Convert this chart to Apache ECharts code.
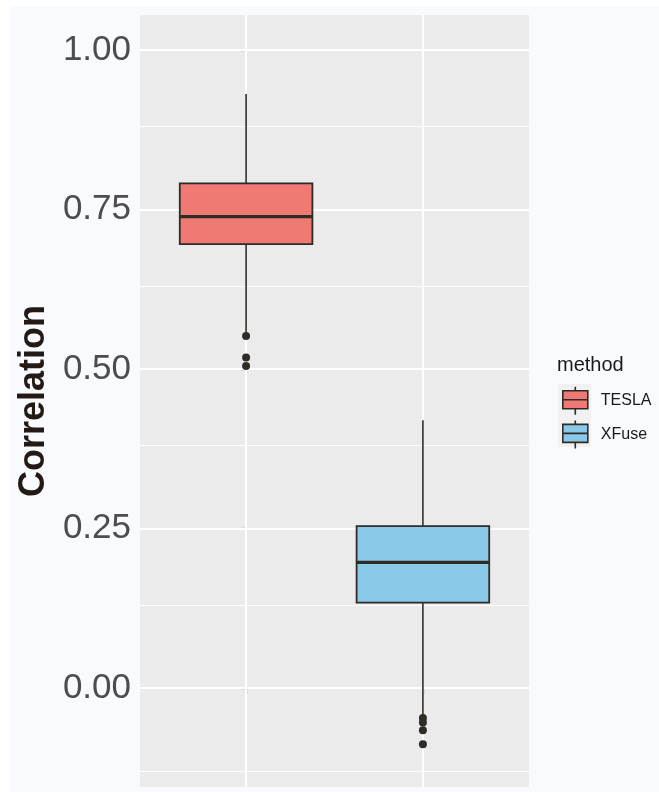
<!DOCTYPE html>
<html>
<head>
<meta charset="utf-8">
<script src="https://cdn.jsdelivr.net/npm/echarts@6/dist/echarts.min.js"></script>
<style>
html,body{margin:0;padding:0;background:#ffffff;}
#chart{width:659px;height:792px;}
</style>
</head>
<body>
<div id="chart"></div>
<script>
// ---- data ----
var categories = ['TESLA', 'XFuse'];
var whiskerLow = [0.556, -0.042];
var q1 = [0.696, 0.134];
var median = [0.739, 0.197];
var q3 = [0.791, 0.254];
var whiskerHigh = [0.931, 0.420];
var outliersTESLA = [0.552, 0.518, 0.505];
var outliersXFuse = [-0.047, -0.054, -0.066, -0.088];
var yTicks = [0, 0.25, 0.5, 0.75, 1.0];
var yMinor = [-0.125, 0.125, 0.375, 0.625, 0.875];
var fillColors = ['#EF7A73', '#8BC9E8'];

var dark = '#2F2B27';
var chart = echarts.init(document.getElementById('chart'), null, {renderer: 'canvas'});

function renderBox(params, api) {
  var x = api.value(0);
  var lo = api.coord([x, api.value(1)]);
  var b1 = api.coord([x, api.value(2)]);
  var md = api.coord([x, api.value(3)]);
  var b3 = api.coord([x, api.value(4)]);
  var hi = api.coord([x, api.value(5)]);
  var w = api.size([0.75, 0])[0];
  var cx = lo[0];
  return {
    type: 'group',
    children: [
      {type: 'line', shape: {x1: cx, y1: hi[1], x2: cx, y2: b3[1]}, style: {stroke: dark, lineWidth: 1.6}},
      {type: 'line', shape: {x1: cx, y1: b1[1], x2: cx, y2: lo[1]}, style: {stroke: dark, lineWidth: 1.6}},
      {type: 'rect', shape: {x: cx - w / 2, y: b3[1], width: w, height: b1[1] - b3[1]},
        style: {fill: api.visual('color'), stroke: dark, lineWidth: 1.8}},
      {type: 'line', shape: {x1: cx - w / 2, y1: md[1], x2: cx + w / 2, y2: md[1]}, style: {stroke: dark, lineWidth: 3.4}}
    ]
  };
}

var boxSeries = categories.map(function (c, i) {
  return {
    name: c,
    type: 'custom',
    renderItem: renderBox,
    itemStyle: {color: fillColors[i]},
    encode: {x: 0, y: [1, 2, 3, 4, 5]},
    data: [[i, whiskerLow[i], q1[i], median[i], q3[i], whiskerHigh[i]]],
    z: 10
  };
});

var outlierData = outliersTESLA.map(function (v) { return [0, v]; })
  .concat(outliersXFuse.map(function (v) { return [1, v]; }));

var gridLines = [];
yTicks.forEach(function (v) { gridLines.push({yAxis: v, lineStyle: {width: 2}}); });
yMinor.forEach(function (v) { gridLines.push({yAxis: v, lineStyle: {width: 1}}); });
categories.forEach(function (c, i) { gridLines.push({xAxis: i, lineStyle: {width: 2}}); });

var legendIcon = 'path://M12.5,0 L12.5,4 M12.5,22 L12.5,28 M0,4 L25,4 L25,22 L0,22 Z M0,13 L25,13';

var option = {
  animation: false,
  backgroundColor: '#ffffff',
  title: {
    text: 'method',
    left: 557, top: 355, padding: 0,
    textStyle: {fontFamily: 'Liberation Sans', fontSize: 20, fontWeight: 'normal', color: '#1A1A1A'}
  },
  graphic: {
    elements: [
      {type: 'rect', left: 10, top: 6, z: -10, shape: {width: 649, height: 786}, style: {fill: '#F9FAFD'}},
      {type: 'rect', left: 558, top: 384, z: -5, shape: {width: 33, height: 63}, style: {fill: '#F1F1F1'}}
    ]
  },
  legend: {
    orient: 'vertical',
    left: 562, top: 386,
    padding: 0,
    itemWidth: 25, itemHeight: 28, itemGap: 4,
    textStyle: {fontFamily: 'Liberation Sans', fontSize: 16, color: '#1A1A1A', padding: [0, 0, 0, 8]},
    data: categories.map(function (c, i) {
      return {name: c, icon: legendIcon, itemStyle: {color: fillColors[i], borderColor: dark, borderWidth: 1.6}};
    })
  },
  grid: {
    left: 140, top: 15, width: 389, height: 772,
    show: true, backgroundColor: '#EBEBEB', borderWidth: 0,
    containLabel: false, outerBoundsMode: 'none'
  },
  xAxis: {
    type: 'value', min: -0.6, max: 1.6,
    axisLine: {show: false},
    splitLine: {show: false},
    axisTick: {show: true, customValues: [0, 1], length: 6, lineStyle: {color: '#333333', width: 1.2}},
    axisLabel: {show: false, customValues: [0, 1], formatter: function (v) { return categories[Math.round(v)]; }}
  },
  yAxis: {
    type: 'value', min: -0.155, max: 1.055,
    name: 'Correlation', nameLocation: 'middle', nameRotate: 90, nameGap: 87,
    nameTextStyle: {fontFamily: 'Liberation Sans', fontSize: 36, fontWeight: 'bold', color: '#231A15'},
    axisLine: {show: false},
    splitLine: {show: false},
    axisTick: {show: true, customValues: yTicks, length: 5, lineStyle: {color: '#333333', width: 1.2}},
    axisLabel: {show: true, customValues: yTicks, margin: 9, padding: [7, 0, 0, 0],
      formatter: function (v) { return v.toFixed(2); },
      fontFamily: 'Liberation Sans', fontSize: 35, color: '#4D4D4D'}
  },
  series: [
    {
      name: 'grid', type: 'line', data: [], z: 1, silent: true,
      markLine: {z: 1, silent: true, symbol: 'none', label: {show: false}, animation: false,
        lineStyle: {color: '#FFFFFF', type: 'solid'}, emphasis: {disabled: true}, data: gridLines}
    }
  ].concat(boxSeries).concat([
    {
      name: 'outliers', type: 'scatter', data: outlierData, symbolSize: 8, z: 12,
      itemStyle: {color: dark, opacity: 1}
    }
  ])
};
chart.setOption(option);
</script>
</body>
</html>
